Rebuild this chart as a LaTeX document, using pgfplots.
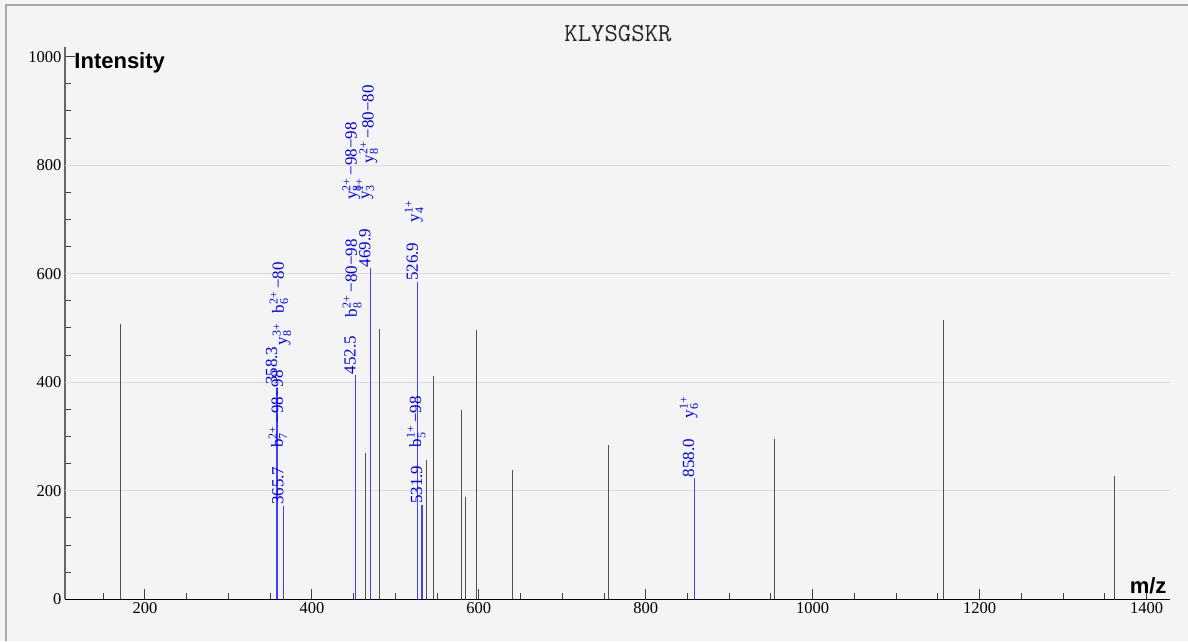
\documentclass[border=0pt]{standalone}
\usepackage{fontspec}
\usepackage{pgfplots}
\pgfplotsset{compat=1.18}
\setmainfont{Liberation Serif}
\newfontfamily\sansfont{Liberation Sans}
\definecolor{bgc}{HTML}{F4F4F4}
\definecolor{framec}{HTML}{AAAAAA}
\definecolor{gridc}{HTML}{DCDCDC}
\definecolor{peakc}{HTML}{505050}
\definecolor{bluel}{HTML}{4040FF}
\definecolor{bluet}{HTML}{0000EE}
\newcommand\sst[1]{\hbox{\fontsize{12}{12}\selectfont #1}}
\newcommand\ion[3]{#1$^{\sst{#3}}_{\sst{#2}}$}
\tikzset{lab/.style={rotate=90, anchor=base west, text=bluet, font=\fontsize{17}{17}\selectfont, inner sep=0pt, outer sep=0pt}}
\begin{document}
\begin{tikzpicture}
\useasboundingbox (-65pt,-41.7pt) rectangle (1123pt,599.3pt);
\fill[bgc] (-65pt,-41.7pt) rectangle (1123pt,599.3pt);
\draw[framec, line width=2.3pt] (-59pt,-41.7pt) -- (-59pt,594.6pt) -- (1123pt,594.6pt);
\begin{axis}[
  at={(0pt,0pt)}, anchor=south west,
  scale only axis, width=1105pt, height=552.6pt,
  xmin=104.2, xmax=1428, ymin=0, ymax=1018.4,
  axis x line*=bottom, axis y line*=left,
  x axis line style={-, black, line width=1.5pt},
  y axis line style={-, black!60, line width=1.5pt},
  tick align=inside, major tick length=10pt, minor tick length=6pt,
  xtick={0,200,...,1600}, minor x tick num=3,
  ytick={0,200,...,1000}, minor y tick num=3,
  every tick/.style={black!75, line width=1pt},
  /pgf/number format/assume math mode=true,
  /pgf/number format/1000 sep={},
  ticklabel style={font=\fontsize{16.5}{16.5}\selectfont, text=black},
  extra y ticks={200,400,600,800},
  extra y tick labels={},
  extra y tick style={grid=major, major tick length=0pt},
  major grid style={gridc, line width=1.3pt},
  clip=false,
]
\addplot[ycomb, peakc, line width=1pt, mark=none] coordinates {
 (170.4,507) (464.4,269) (481.5,499) (537.5,257) (546.2,411) (579.8,349)
 (584.2,188) (597.7,496) (640.0,238) (755.0,284) (954.7,295) (1157.2,515)
 (1362.1,227)
};
\addplot[ycomb, bluel, line width=1.3pt, mark=none] coordinates {
 (358.3,390) (365.7,172) (452.5,413) (469.9,610) (526.9,585) (531.9,174) (858.0,223)
};
% value labels
\node[lab] at (axis cs:358.3,395) {358.3};
\node[lab] at (axis cs:365.7,174) {365.7};
\node[lab] at (axis cs:452.5,415) {452.5};
\node[lab] at (axis cs:469.9,612) {469.9};
\node[lab] at (axis cs:526.9,587) {526.9};
\node[lab] at (axis cs:531.9,176) {531.9};
\node[lab] at (axis cs:858.0,225) {858.0};
% ion annotations
\node[lab] at (axis cs:366.5,527) {\ion{b}{6}{2+}\,−80};
\node[lab] at (axis cs:370,468) {\ion{y}{8}{3+}};
\node[lab] at (axis cs:365.3,279) {\ion{b}{7}{2+}\,−98−98};
\node[lab] at (axis cs:454,520) {\ion{b}{8}{2+}\,−80−98};
\node[lab] at (axis cs:453.5,736) {\ion{y}{8}{2+}\,−98−98};
\node[lab] at (axis cs:469,736) {\ion{y}{3}{1+}};
\node[lab] at (axis cs:474,804) {\ion{y}{8}{2+}\,−80−80};
\node[lab] at (axis cs:528.3,695) {\ion{y}{4}{1+}};
\node[lab] at (axis cs:530.7,280) {\ion{b}{5}{1+}\,−98};
\node[lab] at (axis cs:857.7,334) {\ion{y}{6}{1+}};
% titles
\node[anchor=base, text=black!85, font=\ttfamily\fontsize{26}{26}\selectfont] at (axis cs:766.7,1027.6) {KLYSGSKR};
\node[anchor=base west, font=\sansfont\bfseries\fontsize{22}{22}\selectfont] at (axis cs:111.3,979) {Intensity};
\node[anchor=base east, font=\sansfont\bfseries\fontsize{22}{22}\selectfont] at (axis cs:1428,11.6) {m/z};
\end{axis}
\end{tikzpicture}
\end{document}
